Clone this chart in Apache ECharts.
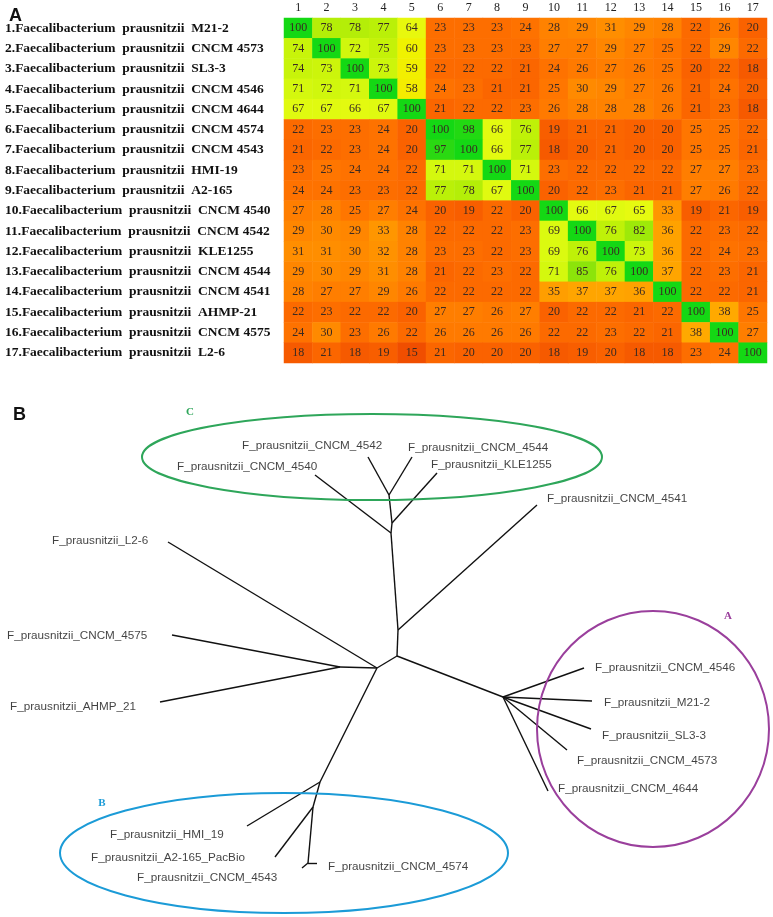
<!DOCTYPE html>
<html><head><meta charset="utf-8">
<script src="https://cdn.jsdelivr.net/npm/echarts@6/dist/echarts.min.js"></script>
<style>html,body{margin:0;padding:0;background:#fff}#c{width:773px;height:917px}</style>
</head><body><div id="c"></div>
<script>
// ---- Panel A data ----
const colLabels = ['1','2','3','4','5','6','7','8','9','10','11','12','13','14','15','16','17'];
const rowLabels = [
 '1.Faecalibacterium  prausnitzii  M21-2',
 '2.Faecalibacterium  prausnitzii  CNCM 4573',
 '3.Faecalibacterium  prausnitzii  SL3-3',
 '4.Faecalibacterium  prausnitzii  CNCM 4546',
 '5.Faecalibacterium  prausnitzii  CNCM 4644',
 '6.Faecalibacterium  prausnitzii  CNCM 4574',
 '7.Faecalibacterium  prausnitzii  CNCM 4543',
 '8.Faecalibacterium  prausnitzii  HMI-19',
 '9.Faecalibacterium  prausnitzii  A2-165',
 '10.Faecalibacterium  prausnitzii  CNCM 4540',
 '11.Faecalibacterium  prausnitzii  CNCM 4542',
 '12.Faecalibacterium  prausnitzii  KLE1255',
 '13.Faecalibacterium  prausnitzii  CNCM 4544',
 '14.Faecalibacterium  prausnitzii  CNCM 4541',
 '15.Faecalibacterium  prausnitzii  AHMP-21',
 '16.Faecalibacterium  prausnitzii  CNCM 4575',
 '17.Faecalibacterium  prausnitzii  L2-6'
];
const identity = [
 [100,78,78,77,64,23,23,23,24,28,29,31,29,28,22,26,20],
 [74,100,72,75,60,23,23,23,23,27,27,29,27,25,22,29,22],
 [74,73,100,73,59,22,22,22,21,24,26,27,26,25,20,22,18],
 [71,72,71,100,58,24,23,21,21,25,30,29,27,26,21,24,20],
 [67,67,66,67,100,21,22,22,23,26,28,28,28,26,21,23,18],
 [22,23,23,24,20,100,98,66,76,19,21,21,20,20,25,25,22],
 [21,22,23,24,20,97,100,66,77,18,20,21,20,20,25,25,21],
 [23,25,24,24,22,71,71,100,71,23,22,22,22,22,27,27,23],
 [24,24,23,23,22,77,78,67,100,20,22,23,21,21,27,26,22],
 [27,28,25,27,24,20,19,22,20,100,66,67,65,33,19,21,19],
 [29,30,29,33,28,22,22,22,23,69,100,76,82,36,22,23,22],
 [31,31,30,32,28,23,23,22,23,69,76,100,73,36,22,24,23],
 [29,30,29,31,28,21,22,23,22,71,85,76,100,37,22,23,21],
 [28,27,27,29,26,22,22,22,22,35,37,37,36,100,22,22,21],
 [22,23,22,22,20,27,27,26,27,20,22,22,21,22,100,38,25],
 [24,30,23,26,22,26,26,26,26,22,22,23,22,21,38,100,27],
 [18,21,18,19,15,21,20,20,20,18,19,20,18,18,23,24,100]
];

// ---- Panel B data (unrooted tree, node layout) ----
const treeNodes = [
 ['n1',389,495],['n2',392,523],['n3',391,533],['n4',398,630],['n5',397,656],
 ['nA',503,697],['n6',377,668],['n7',340,667],['nB1',320,782],['nB2',313,807],['nB3',308,863],
 ['L4542',368,457],['L4544',412,457],['LKLE1255',437,473],['L4540',315,475],['L4541',537,505],
 ['LL2-6',168,542],['L4575',172,635],['LAHMP',160,702],['LHMI',247,826],['LA2',275,857],
 ['L4543',302,868],['L4574',317,863],['L4546',584,668],['LM21',592,701],['LSL3',591,729],
 ['L4573',567,750],['L4644',548,791]
];
const treeEdges = [
 ['n1','L4542'],['n1','L4544'],['n2','n1'],['n2','LKLE1255'],['n3','n2'],['n3','L4540'],
 ['n4','n3'],['n4','L4541'],['n5','n4'],['n5','nA'],['n5','n6'],
 ['nA','L4546'],['nA','LM21'],['nA','LSL3'],['nA','L4573'],['nA','L4644'],
 ['n6','LL2-6'],['n6','n7'],['n7','L4575'],['n7','LAHMP'],['n6','nB1'],
 ['nB1','LHMI'],['nB1','nB2'],['nB2','LA2'],['nB2','nB3'],['nB3','L4543'],['nB3','L4574']
];
const leafLabels = [
 ['F_prausnitzii_CNCM_4542',242,446],['F_prausnitzii_CNCM_4540',177,467],
 ['F_prausnitzii_CNCM_4544',408,448],['F_prausnitzii_KLE1255',431,465],
 ['F_prausnitzii_CNCM_4541',547,499],['F_prausnitzii_L2-6',52,541],
 ['F_prausnitzii_CNCM_4575',7,636],['F_prausnitzii_AHMP_21',10,707],
 ['F_prausnitzii_HMI_19',110,835],['F_prausnitzii_A2-165_PacBio',91,858],
 ['F_prausnitzii_CNCM_4543',137,878],['F_prausnitzii_CNCM_4574',328,867],
 ['F_prausnitzii_CNCM_4546',595,668],['F_prausnitzii_M21-2',604,703],
 ['F_prausnitzii_SL3-3',602,736],['F_prausnitzii_CNCM_4573',577,761],
 ['F_prausnitzii_CNCM_4644',558,789]
];
// clusters: name, centre x, centre y, radius x, radius y, label x, label y
const clusters = [
 ['C',372,457,230,43,190,412],
 ['B',284,853,224,60,102,803],
 ['A',653,729,116,118,728,616]
];
const clusterColors = {C:'#2ea65a', B:'#1b9bd7', A:'#9a3f9c'};

// ---- build ----
const heatData = [];
identity.forEach((row, r) => row.forEach((v, c) => heatData.push([c, r, v])));

const chart = echarts.init(document.getElementById('c'), null, {renderer:'canvas'});
chart.setOption({
 animation:false,
 backgroundColor:'#fff',
 title:[
  {text:'A', left:4, top:2, textStyle:{fontFamily:'Liberation Sans', fontWeight:'bold', fontSize:18, color:'#111'}},
  {text:'B', left:8, top:401, textStyle:{fontFamily:'Liberation Sans', fontWeight:'bold', fontSize:18, color:'#111'}}
 ],
 grid:[
  {left:284, top:18, width:483, height:345, containLabel:false},
  {left:0, top:0, width:773, height:917, containLabel:false}
 ],
 xAxis:[
  {type:'category', gridIndex:0, data:colLabels, position:'top',
   axisLine:{show:false}, axisTick:{show:false}, splitLine:{show:false},
   axisLabel:{fontFamily:'Liberation Serif', fontSize:12, color:'#222', margin:4}},
  {type:'value', gridIndex:1, min:0, max:773, show:false}
 ],
 yAxis:[
  {type:'category', gridIndex:0, data:rowLabels, inverse:true,
   axisLine:{show:false}, axisTick:{show:false}, splitLine:{show:false},
   axisLabel:{align:'left', margin:279, fontFamily:'Liberation Serif', fontWeight:'bold', fontSize:13.5, color:'#111'}},
  {type:'value', gridIndex:1, min:0, max:917, inverse:true, show:false}
 ],
 visualMap:{
  type:'continuous', show:false, min:15, max:100, seriesIndex:0, dimension:2,
  inRange:{color:['#f04e00','#fa6200','#ff7600','#ff8a00','#ff9e00','#ffb000','#ffc200','#ffd200',
                  '#fae400','#f0f200','#e6fa10','#d8fa10','#c4f208','#aaec08','#8ce40a','#60de0c','#38da10','#14d814']}
 },
 series:[
  {type:'heatmap', xAxisIndex:0, yAxisIndex:0, data:heatData,
   label:{show:true, fontFamily:'Liberation Serif', fontSize:12, color:'#3a2a22'},
   itemStyle:{borderWidth:0}, emphasis:{disabled:true}},
  {type:'graph', coordinateSystem:'cartesian2d', xAxisIndex:1, yAxisIndex:1,
   layout:'none', symbolSize:0, symbol:'none', silent:true,
   data:treeNodes.map(n => ({name:n[0], value:[n[1], n[2]]})),
   links:treeEdges.map(e => ({source:e[0], target:e[1]})),
   lineStyle:{color:'#111', width:1.4, opacity:1, curveness:0},
   label:{show:false}, emphasis:{disabled:true}},
  {type:'scatter', xAxisIndex:1, yAxisIndex:1, symbolSize:0, silent:true,
   data:leafLabels.map(l => ({name:l[0], value:[l[1], l[2]]})),
   label:{show:true, position:'right', distance:0, formatter:p => p.name,
          fontFamily:'Liberation Sans', fontSize:11.7, color:'#111'}},
  {type:'custom', xAxisIndex:1, yAxisIndex:1, silent:true,
   data:clusters.map(c => ({name:c[0], value:[c[1], c[2], c[3], c[4], c[5], c[6]]})),
   renderItem:function(params, api){
     const name = clusters[params.dataIndex][0];
     const col = clusterColors[name];
     const ctr = api.coord([api.value(0), api.value(1)]);
     const sz = api.size([api.value(2), api.value(3)]);
     const lp = api.coord([api.value(4), api.value(5)]);
     return {type:'group', children:[
       {type:'ellipse', shape:{cx:ctr[0], cy:ctr[1], rx:sz[0], ry:sz[1]},
        style:{fill:'none', stroke:col, lineWidth:2}},
       {type:'text', style:{text:name, x:lp[0], y:lp[1], align:'center', verticalAlign:'middle',
        fill:col, font:'bold 11px "Liberation Serif"'}}
     ]};
   }}
 ]
});
</script></body></html>
